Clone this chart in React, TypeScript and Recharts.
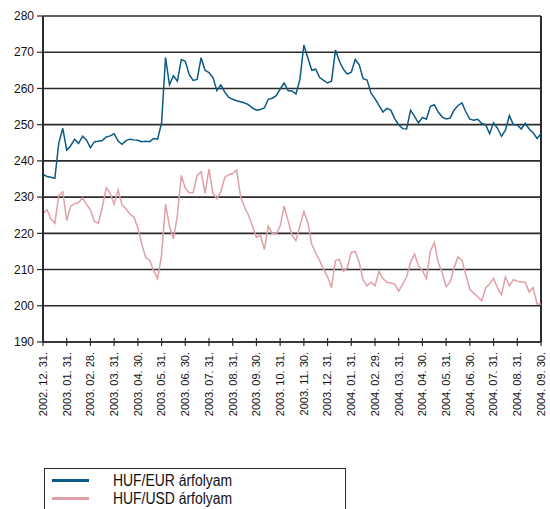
import { LineChart, Line, XAxis, YAxis, CartesianGrid, ReferenceLine } from 'recharts';

// month-end tick labels
const monthLabels = [
    '2002. 12. 31.', '2003. 01. 31.', '2003. 02. 28.', '2003. 03. 31.', '2003. 04. 30.', '2003. 05. 31.',
    '2003. 06. 30.', '2003. 07. 31.', '2003. 08. 31.', '2003. 09. 30.', '2003. 10. 31.', '2003. 11. 30.',
    '2003. 12. 31.', '2004. 01. 31.', '2004. 02. 29.', '2004. 03. 31.', '2004. 04. 30.', '2004. 05. 31.',
    '2004. 06. 30.', '2004. 07. 31.', '2004. 08. 31.', '2004. 09. 30.',
];

const yTicks = [190, 200, 210, 220, 230, 240, 250, 260, 270, 280];

// six readings per month, starting 2002.12.31
const eurRate = [
    236.3, 235.7, 235.5, 235.2, 245.0, 249.0,
    243.0, 244.2, 246.0, 244.8, 246.8, 245.8,
    243.6, 245.3, 245.4, 245.6, 246.6, 246.9,
    247.5, 245.5, 244.6, 245.6, 246.0, 245.8,
    245.7, 245.3, 245.4, 245.3, 246.2, 246.0,
    250.5, 268.5, 261.0, 263.5, 262.0, 268.0,
    267.5, 263.8, 262.2, 262.5, 268.5, 265.0,
    264.4, 263.0, 259.4, 261.0, 259.0, 257.5,
    257.0, 256.6, 256.3, 256.0, 255.5, 254.6,
    254.0, 254.2, 254.6, 257.0, 257.3, 258.0,
    259.8, 261.5, 259.4, 259.3, 258.5, 262.5,
    272.0, 268.5, 265.0, 265.3, 263.0, 262.2,
    261.5, 262.0, 270.6, 267.5, 265.3, 264.0,
    264.5, 268.0, 266.5, 262.7, 262.3, 258.7,
    257.2, 255.3, 253.5, 254.5, 254.0, 251.6,
    250.0, 248.9, 248.8, 254.0, 252.3, 250.5,
    252.0, 251.5, 255.0, 255.5, 253.5, 252.1,
    251.6, 251.8, 254.0, 255.3, 256.0, 253.5,
    251.5, 251.2, 251.5, 250.3, 250.0, 247.5,
    250.5, 249.0, 246.8, 248.5, 252.5, 250.0,
    249.9, 248.8, 250.4, 248.8, 247.8, 246.2,
    247.5,
];

const usdRate = [
    225.5, 226.5, 224.0, 222.8, 230.5, 231.5,
    223.5, 227.5, 228.2, 228.5, 229.8, 228.0,
    226.5, 223.3, 222.8, 227.2, 232.6, 231.0,
    228.0, 232.0, 227.8, 226.8, 225.3, 224.5,
    221.5, 217.0, 213.3, 212.5, 209.7, 207.5,
    214.0, 228.0, 222.0, 218.5, 225.0, 236.0,
    232.5, 231.2, 231.2, 236.0, 237.0, 231.0,
    237.8, 231.0, 229.5, 231.5, 235.5, 236.2,
    236.5, 237.5, 230.0, 227.2, 225.0, 222.0,
    218.9, 219.5, 215.5, 222.0, 220.0, 219.8,
    222.0, 227.5, 223.5, 219.5, 218.0, 222.0,
    226.0, 223.0, 217.0, 214.5, 212.5, 210.0,
    208.0, 205.0, 212.5, 212.8, 209.5, 210.5,
    214.8, 215.0, 212.0, 207.0, 205.5, 206.5,
    205.5, 209.5, 207.5, 206.5, 206.3, 206.0,
    204.0, 206.0, 208.0, 212.0, 214.3, 211.0,
    209.7, 207.5, 215.0, 217.5, 212.0, 209.0,
    205.3, 206.5, 210.5, 213.5, 212.5, 208.5,
    204.5, 203.5, 202.5, 201.4, 205.0, 206.0,
    207.5, 205.0, 203.0, 208.0, 205.5, 207.2,
    206.8, 206.5, 206.5, 203.8, 205.0, 200.5,
    200.5,
];

const series = [
    { key: 'eur', name: 'HUF/EUR árfolyam', color: '#0b5a84' },
    { key: 'usd', name: 'HUF/USD árfolyam', color: '#e0a0a6' },
];

const data = eurRate.map((v, i) => ({ t: i / 6, eur: v, usd: usdRate[i] }));
const monthTicks = monthLabels.map((_, i) => i);

const font = '"Liberation Sans", Arial, sans-serif';
const axisColor = '#2b2b2b';

function MonthTick({ x, y, payload }: any) {
    const ty = y + 10;
    return (
        <g>
            <line x1={x} x2={x} y1={y - 4} y2={y + 4} stroke={axisColor} strokeWidth={1.2} />
            <text
                x={x}
                y={ty}
                dy="0.35em"
                textAnchor="end"
                transform={`rotate(-90 ${x} ${ty})`}
                fontSize={11}
                fontFamily={font}
                fill="#111"
            >
                {monthLabels[payload.value]}
            </text>
        </g>
    );
}

export default function App() {
    return (
        <div style={{ position: 'absolute', left: 0, top: 0, width: 550, height: 509, overflow: 'hidden', background: '#fff' }}>
            <LineChart width={550} height={509} data={data} margin={{ top: 16, right: 9, left: 8, bottom: 67 }}>
                <CartesianGrid horizontal vertical={false} stroke={axisColor} strokeWidth={1.6} />
                <XAxis
                    dataKey="t"
                    type="number"
                    domain={[0, 21]}
                    ticks={monthTicks}
                    interval={0}
                    tick={<MonthTick />}
                    tickLine={false}
                    tickSize={0}
                    tickMargin={0}
                    height={100}
                    axisLine={{ stroke: axisColor, strokeWidth: 1.6 }}
                />
                <YAxis
                    domain={[190, 280]}
                    ticks={yTicks}
                    interval={0}
                    width={35}
                    tickSize={6}
                    tickMargin={3}
                    tick={{ fontSize: 12, fill: '#111', fontFamily: font }}
                    tickLine={{ stroke: axisColor, strokeWidth: 1.2 }}
                    axisLine={{ stroke: axisColor, strokeWidth: 2 }}
                />
                <ReferenceLine x={21} stroke={axisColor} strokeWidth={2} />
                {series.map((s) => (
                    <Line
                        key={s.key}
                        dataKey={s.key}
                        name={s.name}
                        stroke={s.color}
                        strokeWidth={1.5}
                        dot={false}
                        type="linear"
                        isAnimationActive={false}
                    />
                ))}
            </LineChart>
            <div
                style={{
                    position: 'absolute',
                    left: 44,
                    top: 468,
                    width: 300,
                    height: 60,
                    border: `1px solid ${axisColor}`,
                    fontFamily: font,
                    fontSize: 16,
                    color: '#111',
                }}
            >
                {series.map((s, i) => (
                    <div key={s.key} style={{ position: 'absolute', left: 0, top: 3 + i * 18, height: 18, width: 300 }}>
                        <div style={{ position: 'absolute', left: 7, top: 7, width: 37, height: 3, background: s.color }} />
                        <span
                            style={{
                                position: 'absolute',
                                left: 68,
                                top: 0,
                                lineHeight: '18px',
                                whiteSpace: 'nowrap',
                                transform: 'scaleX(0.87)',
                                transformOrigin: 'left center',
                            }}
                        >
                            {s.name}
                        </span>
                    </div>
                ))}
            </div>
        </div>
    );
}
